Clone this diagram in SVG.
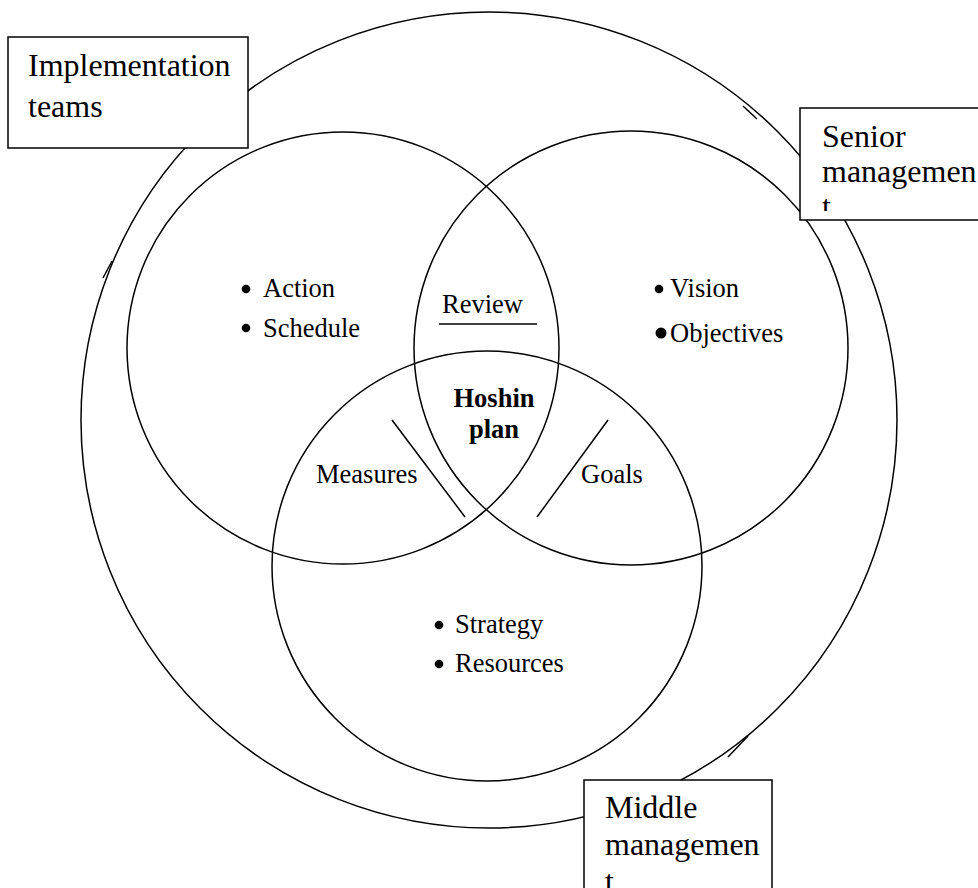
<svg xmlns="http://www.w3.org/2000/svg" width="978" height="888" viewBox="0 0 978 888">
<style>
  .ln { fill: none; stroke: #000; stroke-width: 1.5; }
  .box { fill: #fff; stroke: #000; stroke-width: 1.5; }
  .dot { fill: #000; }
  .t { font-family: "Liberation Serif", "Times New Roman", serif; fill: #000; }
  .big { font-size: 32px; }
  .sm { font-size: 26.5px; }
  .b { font-weight: bold; }
</style>
<defs>
  <clipPath id="clipSenior"><rect x="800" y="108" width="178" height="103"/></clipPath>
</defs>
<rect width="978" height="888" fill="#fff"/>
<g id="connectors">
  <circle id="outer-ring" class="ln" cx="489" cy="420" r="408"/>
  <path class="ln" d="M743,106 L757,119"/>
  <path class="ln" d="M112,261 L103,278"/>
  <path class="ln" d="M748,736 L728,757"/>
  <line class="ln" x1="392" y1="420" x2="465" y2="517"/>
  <line class="ln" x1="608" y1="420" x2="537" y2="517"/>
  <line class="ln" x1="439" y1="324" x2="537" y2="324"/>
</g>
<g id="circle-action">
  <circle class="ln" cx="343" cy="348" r="216"/>
  <circle class="dot" cx="246" cy="289" r="4.3"/>
  <text class="t sm" x="263" y="297">Action</text>
  <circle class="dot" cx="246" cy="328" r="4.3"/>
  <text class="t sm" x="263" y="337">Schedule</text>
</g>
<g id="circle-vision">
  <circle class="ln" cx="631" cy="348" r="217"/>
  <circle class="dot" cx="659" cy="289" r="4.3"/>
  <text class="t sm" x="670" y="297">Vision</text>
  <circle class="dot" cx="661" cy="333" r="5.5"/>
  <text class="t sm" x="670" y="342">Objectives</text>
</g>
<g id="circle-strategy">
  <circle class="ln" cx="487" cy="566" r="215"/>
  <circle class="dot" cx="439" cy="625" r="4.3"/>
  <text class="t sm" x="455" y="633">Strategy</text>
  <circle class="dot" cx="439" cy="664" r="4.3"/>
  <text class="t sm" x="455" y="672">Resources</text>
</g>
<g id="label-review">
  <text class="t sm" x="442" y="313">Review</text>
</g>
<g id="label-hoshin">
  <text class="t sm b" x="494" y="407" text-anchor="middle">Hoshin</text>
  <text class="t sm b" x="494" y="438" text-anchor="middle">plan</text>
</g>
<g id="label-measures">
  <text class="t sm" x="316" y="483">Measures</text>
</g>
<g id="label-goals">
  <text class="t sm" x="581" y="483">Goals</text>
</g>
<g id="box-implementation">
  <rect class="box" x="8" y="37" width="240" height="111"/>
  <text class="t big" x="28" y="76">Implementation</text>
  <text class="t big" x="28" y="117">teams</text>
</g>
<g id="box-senior">
  <rect class="box" x="800" y="108" width="180" height="112"/>
  <text class="t big" x="822" y="147">Senior</text>
  <text class="t big" x="822" y="182">managemen</text>
  <text class="t big" x="822" y="217" clip-path="url(#clipSenior)">t</text>
</g>
<g id="box-middle">
  <rect class="box" x="584" y="780" width="188" height="120"/>
  <text class="t big" x="605" y="818">Middle</text>
  <text class="t big" x="605" y="855">managemen</text>
  <text class="t big" x="605" y="892">t</text>
</g>
</svg>
